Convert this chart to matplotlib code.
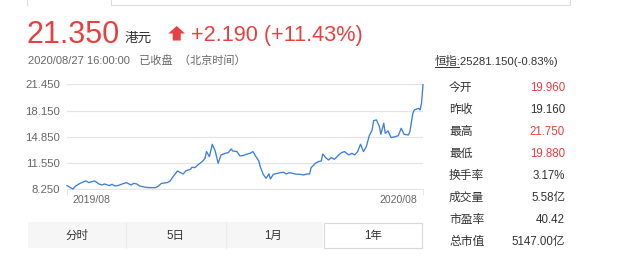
import matplotlib
matplotlib.use("Agg")
import matplotlib.pyplot as plt
from matplotlib.patches import Polygon, Rectangle

plt.rcParams['font.family'] = ['Liberation Sans', 'Noto Sans CJK SC', 'DejaVu Sans']

# one year of closing prices (trading day index, price in HKD)
days = [0, 2, 4, 6, 9, 13, 15, 17, 19, 22, 24, 26, 29, 31, 33, 35, 38, 41, 44, 46,
        48, 50, 54, 57, 61, 63, 65, 69, 71, 73, 76, 78, 80, 82, 85, 86, 88, 90, 93, 95,
        96, 98, 100, 102, 104, 106, 109, 111, 113, 114, 117, 119, 121, 124, 126, 128, 130, 132, 133, 135,
        137, 139, 140, 142, 144, 147, 149, 151, 153, 156, 158, 160, 163, 165, 167, 168, 171, 173, 175, 176,
        178, 180, 182, 184, 187, 189, 191, 194, 196, 198, 200, 202, 204, 206, 208, 210, 211, 213, 215, 216,
        218, 219, 221, 223, 226, 228, 230, 232, 235, 236, 238, 239, 242, 243, 244, 245]
prices = [8.71, 8.50, 8.29, 8.67, 9.00, 9.30, 9.09, 9.21, 9.30, 8.92, 8.79, 8.92, 8.71, 8.88, 8.67, 8.71, 8.92, 9.09, 8.79, 9.00,
          8.92, 8.67, 8.50, 8.46, 8.46, 8.67, 9.00, 9.09, 9.30, 9.84, 10.55, 10.35, 10.18, 10.60, 10.76, 11.02, 10.97, 11.31, 11.73, 12.15,
          12.99, 12.36, 13.91, 13.07, 11.52, 12.57, 12.78, 12.86, 13.32, 13.07, 12.99, 12.44, 12.48, 12.69, 12.78, 12.99, 12.36, 11.81, 11.10, 10.14,
          9.63, 10.18, 9.55, 10.14, 10.22, 10.35, 10.39, 10.18, 10.35, 10.22, 10.14, 10.14, 10.05, 10.18, 10.18, 10.97, 11.52, 11.73, 11.81, 12.69,
          12.23, 11.94, 12.23, 12.02, 12.57, 12.86, 12.99, 12.57, 12.78, 12.57, 12.99, 13.91, 12.99, 13.61, 14.98, 15.71, 16.88, 16.97, 16.13, 15.16,
          16.55, 15.29, 15.58, 14.75, 14.87, 15.00, 15.92, 15.16, 15.08, 15.50, 17.80, 18.22, 18.43, 18.22, 19.06, 21.40]

y_ticks = [8.25, 11.55, 14.85, 18.15, 21.45]
x_tick_pos = [4, 241]
x_tick_labels = ['2019/08', '2020/08']

stat_labels = ['今开', '昨收', '最高', '最低', '换手率', '成交量', '市盈率', '总市值']
stat_values = ['19.960', '19.160', '21.750', '19.880', '3.17%', '5.58亿', '40.42', '5147.00亿']
stat_red = [True, False, True, True, False, False, False, False]

tabs = ['分时', '5日', '1月', '1年']

RED = '#e8403f'
GRAY = '#666666'
DARK = '#333333'

W, H = 622, 259
fig = plt.figure(figsize=(W / 100, H / 100), dpi=100)

# overlay in pixel coordinates for the page furniture
bg = fig.add_axes([0, 0, 1, 1])
bg.set_xlim(0, W)
bg.set_ylim(H, 0)
bg.axis('off')

# tab frame at the very top
bg.plot([27, 27], [0, 5], color='#dddddd', lw=0.8)
bg.plot([111, 111, 570, 570], [0, 5, 5, 0], color='#dddddd', lw=0.8)

bg.text(27, 43, '21.350', color=RED, fontsize=22, ha='left', va='baseline')
bg.text(125, 42, '港元', color=DARK, fontsize=9.8, ha='left', va='baseline')
bg.add_patch(Polygon([(168.3, 33.5), (176.7, 26), (185, 33.5), (180.7, 33.5), (180.7, 40.5),
                      (172.7, 40.5), (172.7, 33.5)], closed=True, color=RED, lw=0))
bg.text(191, 41, '+2.190 (+11.43%)', color=RED, fontsize=15.6, ha='left', va='baseline')
bg.text(27.5, 63.5, '2020/08/27 16:00:00   已收盘  （北京时间）', color=GRAY, fontsize=8.0,
        ha='left', va='baseline')

# index quote and stats panel
bg.text(435, 65, '恒指:25281.150(-0.83%)', color=DARK, fontsize=8.2, ha='left', va='baseline')
bg.plot([435, 458.5], [67, 67], color=DARK, lw=0.7)
for i, (lab, val, red) in enumerate(zip(stat_labels, stat_values, stat_red)):
    yb = 90.7 + 22 * i
    bg.text(449, yb, lab, color=DARK, fontsize=8.5, ha='left', va='baseline')
    bg.text(565, yb, val, color=RED if red else DARK, fontsize=8.3, ha='right', va='baseline')

# period buttons
bg.add_patch(Rectangle((28, 222), 295, 26, facecolor='#f6f6f6', edgecolor='none'))
for xs in [126, 226]:
    bg.plot([xs, xs], [222, 248], color='#ececec', lw=0.8)
bg.add_patch(Rectangle((323.5, 222.5), 98.5, 25.5, facecolor='white', edgecolor='#d9d9d9', lw=0.8))
for cx, t in zip([77, 175, 273, 373], tabs):
    bg.text(cx, 235.5, t, color=DARK, fontsize=8.3, ha='center', va='center')

# price chart
x0, x1, ytop, ybot = 67, 423, 84.3, 189.3
ax = fig.add_axes([x0 / W, 1 - ybot / H, (x1 - x0) / W, (ybot - ytop) / H])
ax.patch.set_alpha(0)
ax.plot(days, prices, color='#3d7fd9', lw=0.95, clip_on=False, zorder=3)
ax.set_xlim(0, 245)
ax.set_ylim(y_ticks[0], y_ticks[-1])
ax.set_yticks(y_ticks)
ax.set_yticklabels(['%.3f' % v for v in y_ticks])
ax.grid(axis='y', color='#e4e4e4', lw=0.9)
ax.set_xticks(x_tick_pos)
ax.set_xticklabels(x_tick_labels)
for s in ['top', 'left', 'right']:
    ax.spines[s].set_visible(False)
ax.spines['bottom'].set_color('#e4e4e4')
ax.tick_params(axis='y', length=0, pad=5, labelsize=8.2, labelcolor=GRAY)
ax.tick_params(axis='x', length=0, pad=4, labelsize=7.6, labelcolor=GRAY)
ax.get_xticklabels()[0].set_ha('left')
ax.get_xticklabels()[1].set_ha('right')
ax.set_xticks([0, 245], minor=True)
ax.tick_params(axis='x', which='minor', length=4, color='#e4e4e4', direction='out')

fig.savefig('out.png', dpi=100)
